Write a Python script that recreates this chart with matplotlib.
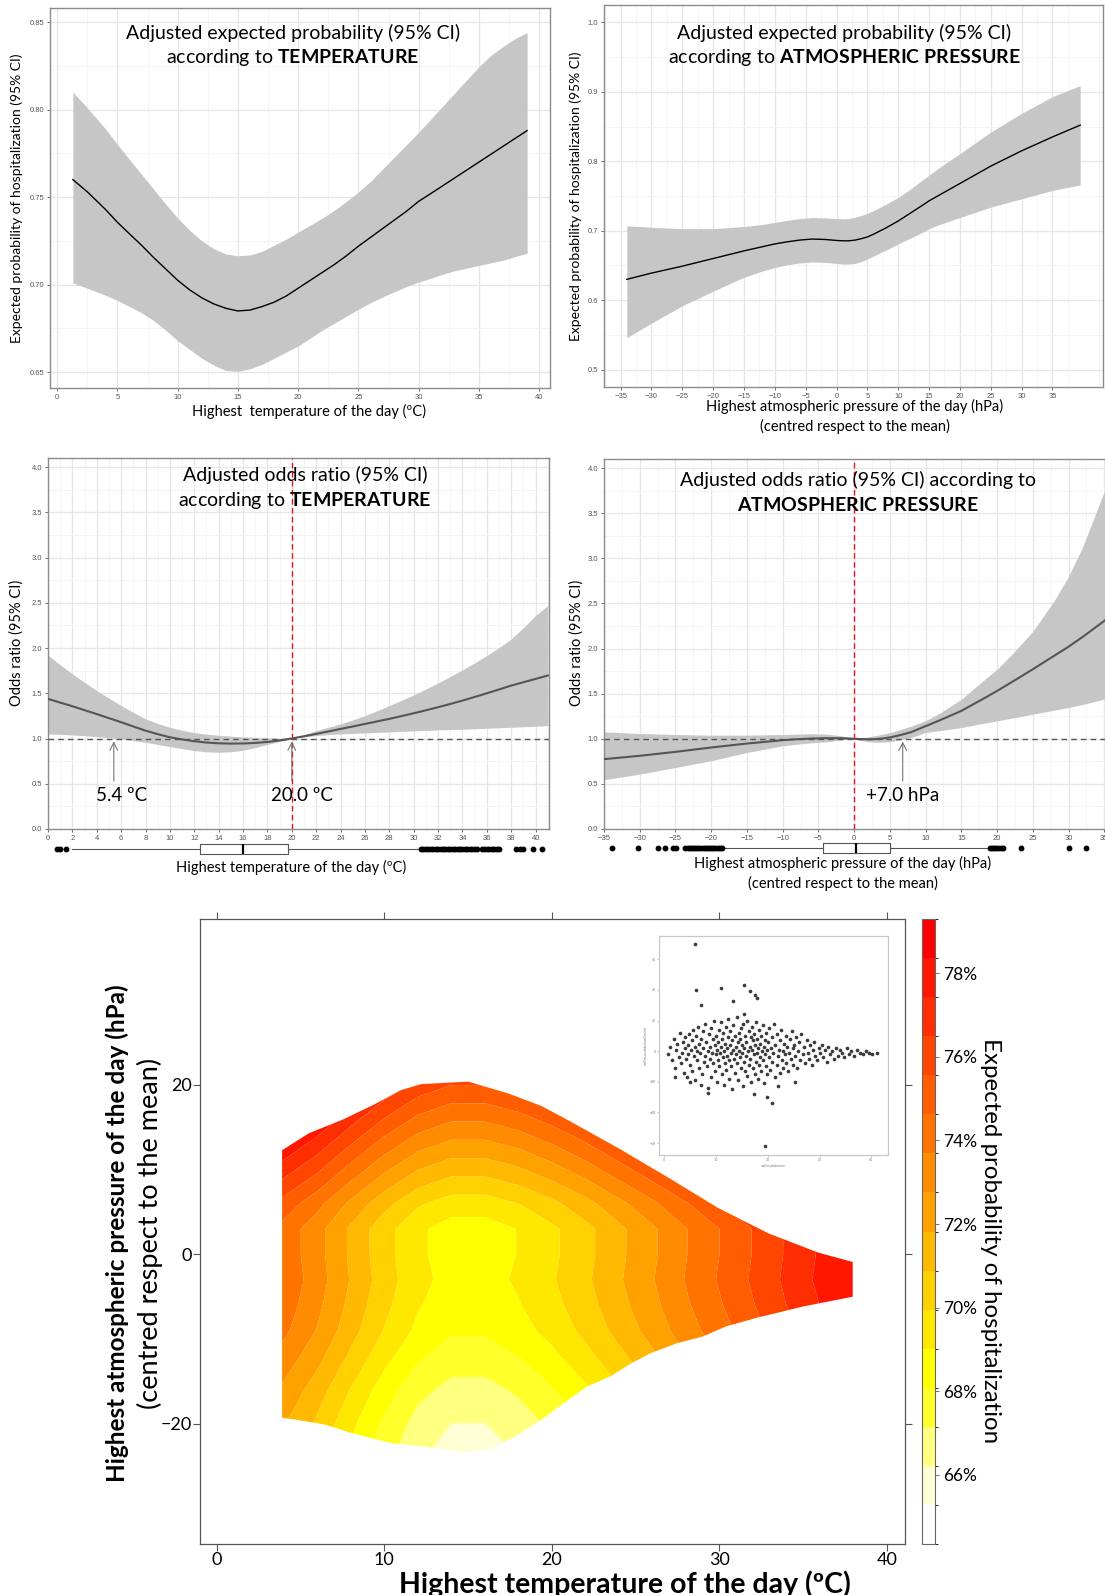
import numpy as np
import matplotlib
matplotlib.use("Agg")
import matplotlib.pyplot as plt
from matplotlib.colors import ListedColormap, BoundaryNorm
from matplotlib.cm import ScalarMappable
from matplotlib.patches import Polygon

plt.rcParams['font.family'] = ['Lato', 'DejaVu Sans']
plt.rcParams['mathtext.fontset'] = 'custom'
plt.rcParams['mathtext.rm'] = 'Lato'
plt.rcParams['mathtext.bf'] = 'Lato:bold'
plt.rcParams['mathtext.it'] = 'Lato:italic'

# ---------------- data ----------------
# Panel 1: expected probability vs temperature
p1_temp = [1.3, 2.5, 4, 5, 6, 7, 8, 9, 10, 11, 12, 13, 14, 15, 16, 17, 18, 19, 20, 21, 22, 23, 24, 25,
           26, 27, 28, 29, 30, 31, 32, 33, 34, 35, 36, 37, 38, 39]
p1_mean = [0.760, 0.753, 0.743, 0.7356, 0.729, 0.7225, 0.7155, 0.709, 0.7025, 0.697, 0.6925, 0.689,
           0.6865, 0.685, 0.6855, 0.6875, 0.690, 0.6935, 0.698, 0.7025, 0.707, 0.7115, 0.7165, 0.722,
           0.727, 0.732, 0.737, 0.742, 0.7476, 0.752, 0.7565, 0.761, 0.7655, 0.770, 0.7745, 0.779,
           0.7835, 0.788]
p1_low = [0.701, 0.698, 0.694, 0.691, 0.6875, 0.684, 0.6795, 0.674, 0.668, 0.663, 0.658, 0.654, 0.651,
          0.6505, 0.652, 0.6545, 0.658, 0.6615, 0.665, 0.6695, 0.674, 0.678, 0.682, 0.686, 0.6897,
          0.693, 0.696, 0.699, 0.7015, 0.7037, 0.706, 0.708, 0.7095, 0.711, 0.7125, 0.714, 0.716, 0.718]
p1_high = [0.810, 0.801, 0.789, 0.780, 0.7715, 0.763, 0.7545, 0.746, 0.738, 0.731, 0.725, 0.7205,
           0.7175, 0.7165, 0.717, 0.719, 0.7225, 0.726, 0.730, 0.734, 0.738, 0.7425, 0.7475, 0.753,
           0.759, 0.766, 0.773, 0.780, 0.787, 0.7945, 0.802, 0.8095, 0.817, 0.8245, 0.831, 0.836,
           0.8405, 0.844]

# Panel 2: expected probability vs pressure
p2_press = [-34, -30, -25, -20, -15, -12, -10, -8, -6, -4, -2, 0, 1, 2, 3, 4, 5, 6, 7, 8, 9, 10, 12,
            14, 15, 17, 20, 25, 30, 35, 39.5]
p2_mean = [0.630, 0.639, 0.649, 0.660, 0.671, 0.677, 0.681, 0.684, 0.6865, 0.688, 0.6875, 0.686,
           0.6855, 0.6855, 0.6865, 0.6885, 0.691, 0.695, 0.6995, 0.704, 0.709, 0.714, 0.7255, 0.737,
           0.743, 0.753, 0.768, 0.793, 0.815, 0.835, 0.852]
p2_low = [0.546, 0.567, 0.592, 0.613, 0.633, 0.642, 0.647, 0.651, 0.6535, 0.655, 0.6545, 0.653,
          0.652, 0.652, 0.653, 0.6555, 0.659, 0.6635, 0.668, 0.672, 0.6765, 0.681, 0.6895, 0.698,
          0.703, 0.710, 0.719, 0.734, 0.746, 0.758, 0.766]
p2_high = [0.707, 0.705, 0.703, 0.703, 0.706, 0.709, 0.712, 0.715, 0.7175, 0.719, 0.7185, 0.7175,
           0.717, 0.7175, 0.7195, 0.722, 0.725, 0.729, 0.7335, 0.738, 0.743, 0.748, 0.760, 0.7735,
           0.780, 0.793, 0.811, 0.842, 0.869, 0.893, 0.909]

# Panel 3: odds ratio vs temperature
p3_temp = list(range(0, 42))
p3_or = [1.438, 1.397, 1.357, 1.313, 1.27, 1.225, 1.18, 1.133, 1.087, 1.048, 1.014, 0.99, 0.97, 0.956,
         0.947, 0.944, 0.945, 0.951, 0.962, 0.979, 1.0, 1.025, 1.051, 1.078, 1.106, 1.133, 1.161,
         1.189, 1.217, 1.248, 1.279, 1.312, 1.346, 1.382, 1.419, 1.459, 1.50, 1.542, 1.585, 1.622,
         1.659, 1.696]
p3_low = [1.051, 1.046, 1.04, 1.031, 1.02, 1.008, 0.995, 0.978, 0.958, 0.935, 0.91, 0.888, 0.866,
          0.853, 0.848, 0.853, 0.87, 0.899, 0.935, 0.967, 1.0, 1.018, 1.032, 1.043, 1.051, 1.057,
          1.062, 1.068, 1.073, 1.079, 1.084, 1.09, 1.095, 1.099, 1.102, 1.108, 1.113, 1.119, 1.124,
          1.13, 1.135, 1.143]
p3_high = [1.92, 1.815, 1.714, 1.62, 1.53, 1.445, 1.364, 1.288, 1.217, 1.165, 1.124, 1.092, 1.065,
           1.048, 1.035, 1.026, 1.018, 1.012, 1.006, 1.002, 1.0, 1.042, 1.088, 1.124, 1.161, 1.206,
           1.253, 1.307, 1.364, 1.422, 1.482, 1.547, 1.615, 1.686, 1.759, 1.836, 1.917, 2.005, 2.10,
           2.225, 2.36, 2.47]

# Panel 4: odds ratio vs pressure
p4_press = [-35, -30, -25, -20, -15, -10, -8, -6, -4, -2, -1, 0, 1, 2, 3, 4, 5, 6, 7, 8, 10, 12, 15,
            18, 20, 22, 25, 28, 30, 32, 34.9, 37]
p4_or = [0.774, 0.811, 0.855, 0.903, 0.947, 0.984, 0.995, 1.002, 1.006, 1.006, 1.004, 1.0, 0.996,
         0.994, 0.996, 1.003, 1.015, 1.032, 1.052, 1.074, 1.14, 1.205, 1.309, 1.44, 1.53, 1.625, 1.77,
         1.92, 2.02, 2.13, 2.30, 2.43]
p4_low = [0.546, 0.608, 0.682, 0.756, 0.848, 0.922, 0.94, 0.955, 0.965, 0.985, 0.993, 1.0, 0.98,
          0.968, 0.962, 0.962, 0.968, 0.98, 0.998, 1.015, 1.069, 1.09, 1.124, 1.17, 1.198, 1.227,
          1.272, 1.317, 1.346, 1.38, 1.438, 1.47]
p4_high = [1.077, 1.058, 1.047, 1.04, 1.04, 1.047, 1.051, 1.055, 1.052, 1.035, 1.02, 1.0, 1.01,
           1.022, 1.035, 1.05, 1.068, 1.09, 1.115, 1.14, 1.20, 1.285, 1.438, 1.64, 1.77, 1.93, 2.19,
           2.53, 2.80, 3.13, 3.72, 4.15]

# Boxplot summaries
bx_temp = dict(q1=12.5, med=16.0, q3=19.7, whislo=2.0, whishi=30.5)
bx_temp_out = [0.7, 1.0, 1.5, 30.6, 30.8, 31.0, 31.2, 31.4, 31.6, 31.8, 32.0, 32.2, 32.4, 32.6, 32.8,
               33.0, 33.2, 33.4, 33.6, 33.8, 34.0, 34.2, 34.4, 34.6, 34.8, 35.0, 35.2, 35.6, 35.8,
               36.0, 36.2, 36.4, 36.6, 36.8, 37.0, 38.4, 38.7, 39.0, 39.8, 40.5]
bx_press = dict(q1=-4.35, med=0.26, q3=5.0, whislo=-18.4, whishi=18.8)
bx_press_out = [-33.9, -30.2, -27.4, -26.4, -25.3, -24.9, -23.6, -23.3, -23.0, -22.7, -22.4, -22.1,
                -21.8, -21.5, -21.2, -20.9, -20.6, -20.3, -20.0, -19.7, -19.4, -19.1, -18.8, -18.5,
                19.0, 19.3, 19.6, 19.9, 20.2, 20.5, 20.8, 23.4, 30.0, 32.4]

# Heatmap: expected probability (%) on temperature x pressure grid
grid_temp = [3.5, 6, 8, 10, 12, 14, 16, 18, 20, 22, 24, 26, 28, 30, 32, 34, 36, 38.5]
grid_press = [-24, -20, -16, -12, -9, -6, -3, 0, 3, 6, 9, 12, 15, 18, 21]
grid_prob = [
    [71.75, 70.25, 68.80, 67.45, 66.35, 65.75, 65.75, 66.20, 66.90, 67.75, 68.75, 69.75, 70.80, 71.78, 72.75, 73.75, 74.70, 75.60],
    [72.20, 70.70, 69.25, 67.90, 66.80, 66.20, 66.20, 66.65, 67.35, 68.20, 69.20, 70.20, 71.25, 72.23, 73.20, 74.20, 75.15, 76.05],
    [72.85, 71.35, 69.90, 68.55, 67.45, 66.85, 66.85, 67.30, 68.00, 68.85, 69.85, 70.85, 71.90, 72.88, 73.85, 74.85, 75.80, 76.70],
    [73.65, 72.15, 70.70, 69.35, 68.25, 67.65, 67.65, 68.10, 68.80, 69.65, 70.65, 71.65, 72.70, 73.68, 74.65, 75.65, 76.60, 77.50],
    [74.20, 72.70, 71.25, 69.90, 68.80, 68.20, 68.20, 68.65, 69.35, 70.20, 71.20, 72.20, 73.25, 74.23, 75.20, 76.20, 77.15, 78.05],
    [74.50, 73.00, 71.55, 70.20, 69.10, 68.50, 68.50, 68.95, 69.65, 70.50, 71.50, 72.50, 73.55, 74.53, 75.50, 76.50, 77.45, 78.35],
    [74.70, 73.20, 71.75, 70.40, 69.30, 68.70, 68.70, 69.15, 69.85, 70.70, 71.70, 72.70, 73.75, 74.73, 75.70, 76.70, 77.65, 78.55],
    [74.60, 73.10, 71.65, 70.30, 69.20, 68.60, 68.60, 69.05, 69.75, 70.60, 71.60, 72.60, 73.65, 74.63, 75.60, 76.60, 77.55, 78.45],
    [74.60, 73.10, 71.65, 70.30, 69.20, 68.60, 68.60, 69.05, 69.75, 70.60, 71.60, 72.60, 73.65, 74.63, 75.60, 76.60, 77.55, 78.45],
    [75.50, 74.00, 72.55, 71.20, 70.10, 69.50, 69.50, 69.95, 70.65, 71.50, 72.50, 73.50, 74.55, 75.53, 76.50, 77.50, 78.45, 79.35],
    [76.80, 75.30, 73.85, 72.50, 71.40, 70.80, 70.80, 71.25, 71.95, 72.80, 73.80, 74.80, 75.85, 76.83, 77.80, 78.80, 79.75, 80.65],
    [78.10, 76.60, 75.15, 73.80, 72.70, 72.10, 72.10, 72.55, 73.25, 74.10, 75.10, 76.10, 77.15, 78.13, 79.10, 80.10, 81.05, 81.95],
    [79.40, 77.90, 76.45, 75.10, 74.00, 73.40, 73.40, 73.85, 74.55, 75.40, 76.40, 77.40, 78.45, 79.43, 80.40, 81.40, 82.35, 83.25],
    [80.70, 79.20, 77.75, 76.40, 75.30, 74.70, 74.70, 75.15, 75.85, 76.70, 77.70, 78.70, 79.75, 80.73, 81.70, 82.70, 83.65, 84.55],
    [82.00, 80.50, 79.05, 77.70, 76.60, 76.00, 76.00, 76.45, 77.15, 78.00, 79.00, 80.00, 81.05, 82.03, 83.00, 84.00, 84.95, 85.85],
]
# Data region (outline of observed temperature/pressure combinations)
hull_top_temp = [3.9, 5.5, 7.5, 9.4, 11.0, 12.2, 15.0, 17.4, 19.4, 21.1, 24.0, 27.0, 29.9, 32.9, 35.9, 37.95]
hull_top_press = [12.3, 14.3, 15.9, 17.7, 19.4, 20.1, 20.4, 19.0, 17.5, 15.7, 12.5, 9.0, 5.5, 2.5, 0.2, -0.9]
hull_bot_temp = [37.95, 35.0, 32.2, 30.4, 29.0, 27.45, 25.85, 24.7, 23.5, 22.1, 21.1, 19.4, 17.8, 16.2, 14.6, 12.4, 10.4, 8.05, 6.46, 4.67, 3.9]
hull_bot_press = [-5.0, -6.15, -7.5, -8.5, -9.7, -10.5, -11.7, -12.9, -14.4, -15.6, -17.0, -19.5, -21.5, -23.1, -23.4, -22.7, -22.3, -21.1, -20.1, -19.5, -19.3]

cbar_levels = [64.34, 65.28, 66.21, 67.15, 68.08, 69.02, 69.95, 70.89, 71.82, 72.76, 73.69, 74.63, 75.56, 76.50, 77.43, 78.37, 79.30]
cbar_colors = ['#FFFFFF', '#FFFFD5', '#FFFF80', '#FFFF2A', '#FFFF00', '#FFE800', '#FFD100', '#FFB900',
               '#FFA200', '#FF8B00', '#FF7400', '#FF5D00', '#FF4600', '#FF2E00', '#FF1700', '#FF0000']
cbar_ticks = [66, 68, 70, 72, 74, 76, 78]

# Inset scatter: temperature vs pressure of the observations
inset_temp = [0.8, 1.2, 1.5, 1.9, 2.1, 2.4, 2.6, 2.9, 3.1, 3.3, 3.5, 3.6, 3.8, 4.0, 4.1, 4.3, 4.4, 4.6, 4.7, 4.9,
              5.1, 5.2, 5.4, 5.5, 5.6, 5.8, 5.9, 6.0, 6.2, 6.3, 6.4, 6.6, 6.7, 6.8, 7.0, 7.1, 7.2, 7.4, 7.5, 7.6,
              7.8, 7.9, 8.0, 8.1, 8.3, 8.4, 8.5, 8.6, 8.8, 8.9, 9.0, 9.1, 9.3, 9.4, 9.5, 9.7, 9.8, 9.9,
              10.0, 10.1, 10.2, 10.3, 10.4, 10.5, 10.6, 10.7, 10.8, 10.9, 11.0, 11.1, 11.2, 11.3, 11.4, 11.5,
              11.6, 11.7, 11.8, 11.9, 12.0, 12.1, 12.2, 12.3, 12.4, 12.5, 12.6, 12.7, 12.8, 12.9, 13.0, 13.1,
              13.2, 13.3, 13.4, 13.5, 13.6, 13.7, 13.8, 13.9, 14.0, 14.1, 14.2, 14.3, 14.4, 14.5, 14.6, 14.7,
              14.8, 14.9, 15.0, 15.1, 15.2, 15.3, 15.4, 15.5, 15.6, 15.7, 15.8, 15.9, 16.0, 16.1, 16.2, 16.3,
              16.4, 16.5, 16.6, 16.7, 16.8, 16.9, 17.0, 17.1, 17.2, 17.3, 17.4, 17.5, 17.6, 17.7, 17.8, 17.9,
              18.0, 18.1, 18.2, 18.3, 18.4, 18.5, 18.6, 18.7, 18.8, 18.9, 19.0, 19.1, 19.2, 19.3, 19.4, 19.5,
              19.6, 19.7, 19.8, 19.9, 20.0, 20.2, 20.3, 20.5, 20.6, 20.8, 20.9, 21.1, 21.2, 21.4, 21.5, 21.7,
              21.8, 22.0, 22.1, 22.3, 22.4, 22.6, 22.7, 22.9, 23.0, 23.2, 23.3, 23.5, 23.6, 23.8, 24.0, 24.1,
              24.3, 24.5, 24.6, 24.8, 24.9, 25.1, 25.3, 25.5, 25.7, 25.9, 26.1, 26.3, 26.5, 26.8, 27.0, 27.2,
              27.5, 27.7, 28.0, 28.2, 28.5, 28.7, 29.0, 29.2, 29.5, 29.8, 30.1, 30.4, 30.7, 31.0, 31.4, 31.7,
              32.0, 32.4, 32.8, 33.1, 33.5, 33.9, 34.3, 34.8, 35.2, 35.7, 36.1, 36.6, 37.2, 37.8, 38.3, 38.9,
              39.5, 40.2, 41.0,
              5.9, 6.2, 7.1, 10.9, 13.3, 15.5, 16.5, 17.5, 18.0, 15.5, 19.9, 20.9, 19.4, 25.2, 21.9, 17.3, 8.5, 4.95, 2.1]
inset_press = [-2, 3, -6, 8, -11, 1, 5, -4, 12, -8, -1, 6, -14, 2, 9, -5, -17, 4, -2, 11,
               -9, 1, 7, -13, 14, -3, 3, -19, 10, -6, 0, 16, -11, 5, -1, -22, 8, -15, 2, 13,
               -7, -3, 18, 6, -10, 0, -24, 11, -5, 3, 15, -17, -1, 8, -8, 20, 4, -13,
               -2, 10, -20, 1, 6, -6, 14, -10, -1, 19, 3, -15, 8, -4, 12, -22,
               0, 5, -8, 16, -12, 2, -3, 9, 21, -18, -6, 4, 13, -1, -10, 7,
               -25, 1, 17, -5, 10, -14, 3, -2, 22, -8, 6, -19, 0, 12, -4, 8,
               -11, 15, -1, 4, -23, 18, -7, 2, 10, -13, -3, 6, 20, -16, 0, 13,
               -9, 3, -5, 9, -20, 16, 1, -11, 7, -2, 11, -15, 4, -7, 19, -1,
               8, -18, 2, 14, -9, -4, 5, -13, 10, 0, 17, -6, 3, -21, 7, -2,
               12, -10, 1, -15, 6, -4, 15, -12, 2, 9, -7, -1, 18, -17, 4, -9,
               11, -3, 1, -14, 7, 14, -6, 0, -11, 5, -2, 10, -8, 3, -13, -1,
               8, -5, 13, 2, -9, 4, -3, 9, -11, 0, 6, -6, 11, -2, 3, -8,
               7, -1, -5, 4, -9, 1, 6, -3, -6, 2, -1, 4, -4, 1, -7, 3,
               -2, 0, -5, 2, -3, 1, -1, -4, 2, -2, 0, -3, 1, -1, -2, 0,
               -1, -2, -1,
               70, 40, 30, 41, 33, 43, 39, 37, 35, 24, -30, -34, -62, -20, -23, -28, -27, -20, -17]

# ---------------- figure ----------------
W, H = 1105, 1595
fig = plt.figure(figsize=(W / 100, H / 100), dpi=100)


def ax_px(l, t, r, b):
    return fig.add_axes([l / W, 1 - b / H, (r - l) / W, (b - t) / H])


def ftext(x, y, s, **kw):
    kw.setdefault('ha', 'center')
    kw.setdefault('va', 'center')
    return fig.text(x / W, 1 - y / H, s, **kw)


def gg(ax, xmaj, xmin, ymaj, ymin, xfmt=None, yfmt=None):
    ax.set_xticks(xmaj)
    ax.set_xticks(xmin, minor=True)
    ax.set_yticks(ymaj)
    ax.set_yticks(ymin, minor=True)
    if xfmt:
        ax.set_xticklabels([xfmt.format(v) for v in xmaj])
    if yfmt:
        ax.set_yticklabels([yfmt.format(v) for v in ymaj])
    ax.grid(which='major', color='#E6E6E6', lw=0.9)
    ax.grid(which='minor', color='#F2F2F2', lw=0.6)
    ax.set_axisbelow(True)
    ax.tick_params(which='major', length=2.5, width=0.6, color='#555555', labelsize=5.5,
                   labelcolor='#555555', pad=1.5)
    ax.tick_params(which='minor', length=0)
    for lbl in ax.get_xticklabels() + ax.get_yticklabels():
        lbl.set_family('Liberation Sans')
    for s in ax.spines.values():
        s.set_color('#8C8C8C')
        s.set_linewidth(1.0)


band_color = '#C6C6C6'

# ---- Panel 1 ----
ax1 = ax_px(50, 8, 550, 388)
ax1.fill_between(p1_temp, p1_low, p1_high, color=band_color, lw=0, zorder=2)
ax1.plot(p1_temp, p1_mean, color='black', lw=1.0, zorder=3)
ax1.set_xlim(-0.6, 40.9)
ax1.set_ylim(0.641, 0.858)
gg(ax1, np.arange(0, 41, 5), np.arange(2.5, 41, 5), [0.65, 0.70, 0.75, 0.80, 0.85],
   [0.675, 0.725, 0.775, 0.825], yfmt='{:.2f}')
ftext(293, 33, 'Adjusted expected probability (95% CI)', fontsize=14)
ftext(293, 58, r'according to $\mathbf{TEMPERATURE}$', fontsize=14)
ftext(17, 198, 'Expected probability of hospitalization (95% CI)', fontsize=10, rotation=90)
ftext(309, 411, 'Highest  temperature of the day (ºC)', fontsize=10.5)

# ---- Panel 2 ----
ax2 = ax_px(604, 5, 1103, 387)
ax2.fill_between(p2_press, p2_low, p2_high, color=band_color, lw=0, zorder=2)
ax2.plot(p2_press, p2_mean, color='black', lw=1.0, zorder=3)
ax2.set_xlim(-37.7, 43.2)
ax2.set_ylim(0.475, 1.025)
gg(ax2, np.arange(-35, 36, 5), np.arange(-37.5, 43, 5), [0.5, 0.6, 0.7, 0.8, 0.9, 1.0],
   [0.55, 0.65, 0.75, 0.85, 0.95], yfmt='{:.1f}')
ftext(844, 33, 'Adjusted expected probability (95% CI)', fontsize=14)
ftext(844, 58, r'according to $\mathbf{ATMOSPHERIC\ PRESSURE}$', fontsize=14)
ftext(576, 196, 'Expected probability of hospitalization (95% CI)', fontsize=10, rotation=90)
ftext(855, 406, 'Highest atmospheric pressure of the day (hPa)', fontsize=10.5)
ftext(855, 426, '(centred respect to the mean)', fontsize=10.5)

# ---- Panel 3 ----
ax3 = ax_px(48, 458, 549, 829)
ax3.fill_between(p3_temp, p3_low, p3_high, color=band_color, lw=0, zorder=2)
ax3.plot(p3_temp, p3_or, color='#555555', lw=1.5, zorder=3)
ax3.axhline(1.0, color='#555555', lw=1.0, ls=(0, (4, 3)), zorder=4)
ax3.axvline(20, color='#E8161B', lw=1.0, ls=(0, (4, 2.5)), zorder=4)
ax3.set_xlim(0, 41.1)
ax3.set_ylim(0, 4.1)
gg(ax3, np.arange(0, 41, 2), np.arange(1, 42, 2), np.arange(0, 4.01, 0.5),
   np.arange(0.25, 4.1, 0.5), yfmt='{:.1f}')
for xa in [5.4, 20.0]:
    ax3.annotate('', xy=(xa, 1.0), xytext=(xa, 0.5),
                 arrowprops=dict(arrowstyle='->', color='#777777', lw=0.8, mutation_scale=14), zorder=5)
ax3.text(6.0, 0.37, '5.4 ºC', fontsize=13.5, ha='center', va='center', zorder=6)
ax3.text(20.8, 0.37, '20.0 ºC', fontsize=13.5, ha='center', va='center', zorder=6)
ftext(305, 475, 'Adjusted odds ratio (95% CI)', fontsize=14)
ftext(305, 500, r'according to $\mathbf{TEMPERATURE}$', fontsize=14)
ftext(17, 643, 'Odds ratio (95% CI)', fontsize=10.5, rotation=90)
ftext(291, 867, 'Highest temperature of the day (ºC)', fontsize=10.5)

bx3 = ax_px(48, 838, 549, 860)
bx3.bxp([dict(bx_temp, fliers=bx_temp_out)], orientation='horizontal', positions=[0], widths=0.9,
        showcaps=False,
        boxprops=dict(color='#555555', lw=0.8), whiskerprops=dict(color='#555555', lw=0.8),
        medianprops=dict(color='black', lw=1.6),
        flierprops=dict(marker='o', markersize=3.2, markerfacecolor='black', markeredgecolor='black'))
bx3.set_xlim(0, 41.1)
bx3.set_ylim(-1, 1)
bx3.axis('off')

# ---- Panel 4 ----
ax4 = ax_px(604, 459, 1140, 829)
ax4.fill_between(p4_press, p4_low, p4_high, color=band_color, lw=0, zorder=2)
ax4.plot(p4_press, p4_or, color='#555555', lw=1.5, zorder=3)
ax4.axhline(1.0, color='#555555', lw=1.0, ls=(0, (4, 3)), zorder=4)
ax4.axvline(0, color='#E8161B', lw=1.0, ls=(0, (4, 2.5)), zorder=4)
ax4.set_xlim(-35, 40)
ax4.set_ylim(0, 4.1)
gg(ax4, np.arange(-35, 36, 5), np.arange(-32.5, 40, 5), np.arange(0, 4.01, 0.5),
   np.arange(0.25, 4.1, 0.5), yfmt='{:.1f}')
ax4.annotate('', xy=(6.8, 1.0), xytext=(6.8, 0.5),
             arrowprops=dict(arrowstyle='->', color='#777777', lw=0.8, mutation_scale=14), zorder=5)
ax4.text(6.8, 0.37, '+7.0 hPa', fontsize=13.5, ha='center', va='center', zorder=6)
ftext(858, 480, 'Adjusted odds ratio (95% CI) according to', fontsize=14)
ftext(858, 505, r'$\mathbf{ATMOSPHERIC\ PRESSURE}$', fontsize=14)
ftext(577, 643, 'Odds ratio (95% CI)', fontsize=10.5, rotation=90)
ftext(843, 863, 'Highest atmospheric pressure of the day (hPa)', fontsize=10.5)
ftext(843, 883, '(centred respect to the mean)', fontsize=10.5)

bx4 = ax_px(604, 837, 1140, 859)
bx4.bxp([dict(bx_press, fliers=bx_press_out)], orientation='horizontal', positions=[0], widths=0.9,
        showcaps=False,
        boxprops=dict(color='#555555', lw=0.8), whiskerprops=dict(color='#555555', lw=0.8),
        medianprops=dict(color='black', lw=1.6),
        flierprops=dict(marker='o', markersize=3.2, markerfacecolor='black', markeredgecolor='black'))
bx4.set_xlim(-35, 40)
bx4.set_ylim(-1, 1)
bx4.axis('off')

# ---- Heatmap ----
axh = ax_px(200, 919, 905, 1544)
cont_levels = cbar_levels[:-1] + [100.0]
cs = axh.contourf(grid_temp, grid_press, np.array(grid_prob), levels=cont_levels, colors=cbar_colors,
                  antialiased=True)
hull = list(zip(hull_top_temp, hull_top_press)) + list(zip(hull_bot_temp, hull_bot_press))
poly = Polygon(hull, closed=True, transform=axh.transData, facecolor='none', edgecolor='none')
axh.add_patch(poly)
cs.set_clip_path(poly)
axh.set_xlim(-1.0, 41.07)
axh.set_ylim(-34.2, 39.6)
axh.set_xticks([0, 10, 20, 30, 40])
axh.set_yticks([-20, 0, 20])
axh.tick_params(direction='out', length=5, width=0.8, color='#555555', labelsize=13,
                top=True, right=True, labeltop=False, labelright=False, pad=1)
for s in axh.spines.values():
    s.set_color('#555555')
    s.set_linewidth(0.9)
ftext(625, 1584, 'Highest temperature of the day (ºC)', fontsize=20.5, fontweight='bold')
ftext(117, 1233, 'Highest atmospheric pressure of the day (hPa)', fontsize=17.5, fontweight='bold',
      rotation=90)
ftext(150, 1233, '(centred respect to the mean)', fontsize=19.5, rotation=90)

# Colorbar
cax = ax_px(922, 919, 935, 1544)
norm = BoundaryNorm(cbar_levels, len(cbar_colors))
sm = ScalarMappable(norm=norm, cmap=ListedColormap(cbar_colors))
cb = fig.colorbar(sm, cax=cax, ticks=cbar_ticks)
cb.ax.set_yticklabels(['{}%'.format(t) for t in cbar_ticks])
cb.ax.tick_params(labelsize=12.5, length=3, width=0.6, color='#555555', pad=3)
cb.outline.set_edgecolor('#666666')
cb.outline.set_linewidth(0.8)
ftext(990, 1241, 'Expected probability of hospitalization', fontsize=17.3, rotation=-90)

# Inset scatter
axi = ax_px(659, 936, 888, 1155)
axi.scatter(inset_temp, inset_press, s=7, color='#1A1A1A', lw=0, alpha=0.85)
axi.set_xlim(-0.96, 43.2)
axi.set_ylim(-67.8, 75.2)
axi.set_xticks([0, 10, 20, 30, 40])
axi.set_yticks([-60, -40, -20, 0, 20, 40, 60])
axi.tick_params(length=1.5, width=0.4, color='#999999', labelsize=2.5, labelcolor='#777777', pad=1)
for s in axi.spines.values():
    s.set_color('#C8C8C8')
    s.set_linewidth(0.9)
axi.set_xlabel('maxTempAdmission', fontsize=2, color='#777777', labelpad=1)
axi.set_ylabel('maxPressureAdmissionCentred', fontsize=2, color='#777777', labelpad=1)

fig.savefig('out.png', dpi=100)
